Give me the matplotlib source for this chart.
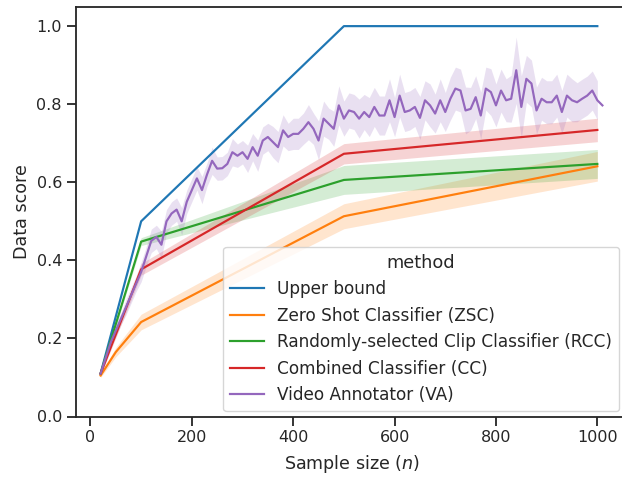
import numpy as np
import matplotlib
matplotlib.use("Agg")
import matplotlib.pyplot as plt

# values
methods = ["Upper bound", "Zero Shot Classifier (ZSC)",
           "Randomly-selected Clip Classifier (RCC)",
           "Combined Classifier (CC)", "Video Annotator (VA)"]

ub_n = [20, 100, 500, 1000]
ub_score = [0.11, 0.50, 1.0, 1.0]

zsc_n = [20, 50, 100, 500, 1000]
zsc_score = [0.105, 0.165, 0.242, 0.513, 0.641]
zsc_ci = [0.005, 0.012, 0.02, 0.032, 0.038]

rcc_n = [20, 100, 500, 1000]
rcc_score = [0.11, 0.448, 0.606, 0.647]
rcc_ci = [0.005, 0.01, 0.037, 0.037]

cc_n = [20, 100, 500, 1000]
cc_score = [0.11, 0.377, 0.673, 0.734]
cc_ci = [0.005, 0.015, 0.026, 0.03]

va_n = list(range(20, 1011, 10))
va_score = [0.11, 0.15, 0.19, 0.22, 0.25, 0.28, 0.31, 0.34, 0.37, 0.41,
            0.45, 0.46, 0.44, 0.50, 0.52, 0.53, 0.50, 0.55, 0.58, 0.61,
            0.58, 0.62, 0.655, 0.635, 0.636, 0.647, 0.677, 0.668, 0.677, 0.66,
            0.69, 0.668, 0.707, 0.716, 0.703, 0.69, 0.733, 0.716, 0.724, 0.724,
            0.737, 0.754, 0.737, 0.707, 0.763, 0.75, 0.737, 0.797, 0.763, 0.784,
            0.78, 0.763, 0.78, 0.767, 0.793, 0.771, 0.771, 0.81, 0.767, 0.822,
            0.78, 0.784, 0.793, 0.765, 0.81, 0.797, 0.776, 0.81, 0.78, 0.814,
            0.84, 0.835, 0.784, 0.788, 0.818, 0.771, 0.84, 0.831, 0.797, 0.835,
            0.81, 0.814, 0.887, 0.793, 0.865, 0.853, 0.784, 0.814, 0.805, 0.805,
            0.822, 0.78, 0.822, 0.81, 0.805, 0.814, 0.822, 0.835, 0.81, 0.797]
va_ci = [0.005, 0.01, 0.01, 0.015, 0.015, 0.02, 0.02, 0.02, 0.025, 0.025,
         0.03, 0.03, 0.035, 0.03, 0.03, 0.03, 0.035, 0.03, 0.03, 0.03,
         0.035, 0.03, 0.035, 0.03, 0.03, 0.03, 0.035, 0.03, 0.03, 0.035,
         0.035, 0.04, 0.035, 0.035, 0.04, 0.04, 0.04, 0.035, 0.04, 0.04,
         0.04, 0.045, 0.04, 0.05, 0.045, 0.04, 0.045, 0.05, 0.045, 0.045,
         0.045, 0.05, 0.045, 0.05, 0.05, 0.05, 0.05, 0.055, 0.05, 0.055,
         0.05, 0.05, 0.05, 0.055, 0.05, 0.055, 0.05, 0.055, 0.05, 0.055,
         0.055, 0.055, 0.06, 0.055, 0.055, 0.06, 0.055, 0.06, 0.055, 0.055,
         0.055, 0.06, 0.085, 0.08, 0.06, 0.06, 0.06, 0.055, 0.055, 0.055,
         0.055, 0.055, 0.055, 0.055, 0.05, 0.05, 0.05, 0.05, 0.05, np.nan]

colors = ["#1f77b4", "#ff7f0e", "#2ca02c", "#d62728", "#9467bd"]
s = 1.05
ink = "0.15"

plt.rcParams["font.family"] = "DejaVu Sans"
plt.rcParams["text.color"] = ink
plt.rcParams["axes.labelcolor"] = ink

fig = plt.figure(figsize=(6.22, 4.79), dpi=100)
ax = fig.add_axes([75.5 / 622, 62.5 / 479, (627.5 - 75.5) / 622, 409.5 / 479])

series = [(ub_n, ub_score, None), (zsc_n, zsc_score, zsc_ci),
          (rcc_n, rcc_score, rcc_ci), (cc_n, cc_score, cc_ci),
          (va_n, va_score, va_ci)]
for (n, y, ci), c, lab in zip(series, colors, methods):
    n = np.array(n, float)
    y = np.array(y, float)
    ax.plot(n, y, color=c, lw=1.5 * s, label=lab)
    if ci is not None:
        ci = np.array(ci, float)
        ax.fill_between(n, y - ci, y + ci, color=c, alpha=0.2, lw=0)

ax.set_ylim(0, 1.049)
ax.set_xlim(-29.5, 1059.5)
ax.set_xticks([0, 200, 400, 600, 800, 1000])
ax.set_yticks([0.0, 0.2, 0.4, 0.6, 0.8, 1.0])
ax.set_xlabel("Sample size ($n$)", fontsize=12 * s, labelpad=6)
ax.set_ylabel("Data score", fontsize=12 * s)
ax.tick_params(labelsize=11 * s, length=6 * s, width=1.25 * s, color=ink,
               labelcolor=ink)
for sp in ax.spines.values():
    sp.set_linewidth(1.25 * s)
    sp.set_color(ink)

leg = ax.legend(title="method", loc="lower right", fontsize=12.2,
                title_fontsize=12.8, borderaxespad=0,
                bbox_to_anchor=(619 / 622, (479 - 411) / 479),
                bbox_transform=fig.transFigure)

fig.savefig("out.png", dpi=100)
